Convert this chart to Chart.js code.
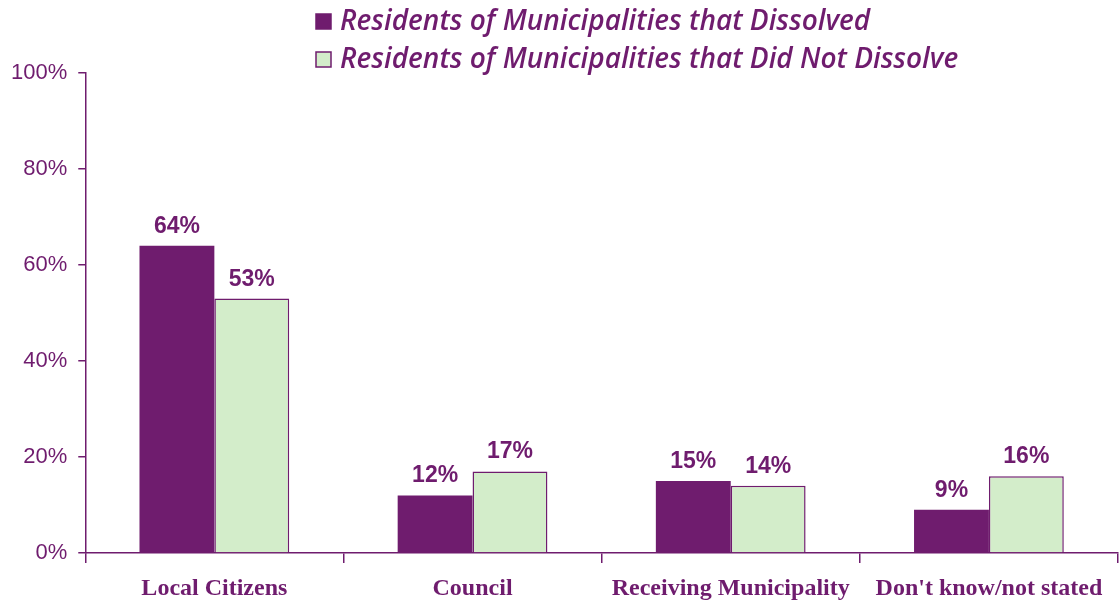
<!DOCTYPE html>
<html>
<head>
<meta charset="utf-8">
<script src="https://cdn.jsdelivr.net/npm/chart.js@4.4.1/dist/chart.umd.min.js"></script>
<style>
  html, body { margin: 0; padding: 0; background: #fff; }
  #wrap { width: 1120px; height: 604px; position: relative; }
</style>
</head>
<body>
<div id="wrap"><canvas id="chart"></canvas></div>
<script>
// Données
const categories = ['Local Citizens', 'Council', 'Receiving Municipality', "Don't know/not stated"]
const dissolved = [64, 12, 15, 9]
const notDissolved = [53, 17, 14, 16]
const seriesNames = [
  'Residents of Municipalities that Dissolved',
  'Residents of Municipalities that Did Not Dissolve'
]

const PURPLE = '#6f1c6e'
const GREEN = '#d3edca'

// Légende dessinée à la main (deux lignes alignées à gauche)
const legendPlugin = {
  id: 'leftLegend',
  afterDraw(chart) {
    const ctx = chart.ctx
    ctx.save()
    ctx.font = 'italic 600 28px "Open Sans", sans-serif'
    ctx.textBaseline = 'middle'
    chart.data.datasets.forEach((ds, i) => {
      const y = 22 + i * 38
      ctx.fillStyle = ds.backgroundColor
      ctx.fillRect(316, y - 8, 15, 15)
      ctx.strokeStyle = PURPLE
      ctx.lineWidth = 1.5
      ctx.strokeRect(316, y - 8, 15, 15)
      ctx.fillStyle = PURPLE
      ctx.fillText(ds.label, 340, y)
    })
    ctx.restore()
  }
}

// Valeurs au-dessus des barres
const valueLabels = {
  id: 'valueLabels',
  afterDatasetsDraw(chart) {
    const ctx = chart.ctx
    ctx.save()
    ctx.font = 'bold 23px "Liberation Sans", Arial, sans-serif'
    ctx.fillStyle = PURPLE
    ctx.textAlign = 'center'
    ctx.textBaseline = 'alphabetic'
    chart.data.datasets.forEach((ds, i) => {
      chart.getDatasetMeta(i).data.forEach((bar, j) => {
        ctx.fillText(ds.data[j] + '%', bar.x, bar.y - 13)
      })
    })
    ctx.restore()
  }
}

new Chart(document.getElementById('chart'), {
  type: 'bar',
  data: {
    labels: categories,
    datasets: [
      {
        label: seriesNames[0],
        data: dissolved,
        backgroundColor: PURPLE,
        borderColor: PURPLE,
        borderWidth: 0
      },
      {
        label: seriesNames[1],
        data: notDissolved,
        backgroundColor: GREEN,
        borderColor: PURPLE,
        borderWidth: 1.5
      }
    ]
  },
  options: {
    responsive: true,
    maintainAspectRatio: false,
    animation: false,
    layout: { padding: { top: 73, right: 2, left: 0, bottom: 0 } },
    datasets: { bar: { categoryPercentage: 0.58, barPercentage: 1 } },
    plugins: {
      legend: { display: false },
      tooltip: { enabled: false }
    },
    scales: {
      x: {
        // hauteur fixe de l'axe pour placer la ligne de base à 0 %
        afterFit: (scale) => { scale.height = 51 },
        grid: {
          offset: true,
          drawOnChartArea: false,
          color: PURPLE,
          tickLength: 10,
          lineWidth: 1.5
        },
        border: { color: PURPLE, width: 1.5 },
        ticks: {
          color: PURPLE,
          padding: 11,
          font: { family: '"Liberation Serif", serif', size: 24, weight: 'bold' }
        }
      },
      y: {
        min: 0,
        max: 100,
        ticks: {
          stepSize: 20,
          color: PURPLE,
          padding: 11,
          font: { family: '"Liberation Sans", Arial, sans-serif', size: 22 },
          callback: (v) => v + '%'
        },
        grid: {
          drawOnChartArea: false,
          color: PURPLE,
          tickLength: 7,
          lineWidth: 1.5
        },
        border: { color: PURPLE, width: 1.5 }
      }
    }
  },
  plugins: [legendPlugin, valueLabels]
})
</script>
</body>
</html>
